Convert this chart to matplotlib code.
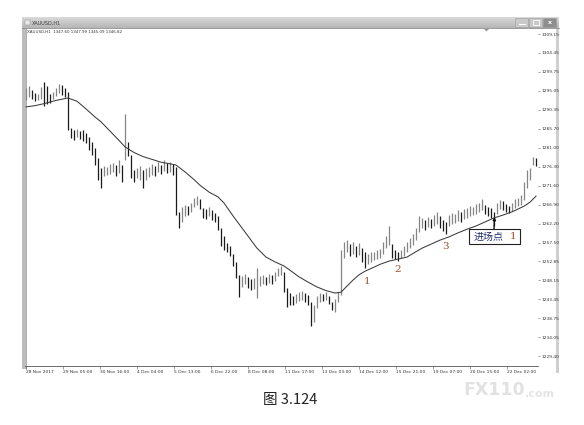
import numpy as np
import matplotlib
matplotlib.use("Agg")
import matplotlib.pyplot as plt
from matplotlib.patches import Rectangle, Polygon
from matplotlib.colors import LinearSegmentedColormap

# ---------------- data ----------------
highs = [1295.8, 1296.3, 1295.3, 1294.5, 1294.3, 1296.0, 1297.3, 1296.3, 1294.3, 1294.8,
         1295.8, 1296.8, 1296.5, 1295.8, 1294.8, 1285.9, 1285.4, 1285.6, 1285.1, 1285.4,
         1284.6, 1283.6, 1282.4, 1280.9, 1278.4, 1275.9, 1276.4, 1276.2, 1276.9, 1277.2,
         1276.7, 1277.9, 1276.7, 1289.3, 1282.4, 1279.2, 1275.5, 1275.9, 1276.4, 1275.5,
         1275.9, 1276.2, 1276.9, 1276.4, 1277.4, 1276.7, 1277.9, 1277.2, 1277.4, 1276.9,
         1276.2, 1265.1, 1266.3, 1266.8, 1266.5, 1267.3, 1268.5, 1269.0, 1268.3, 1266.0,
         1265.8, 1266.3, 1265.6, 1264.8, 1264.1, 1261.1, 1259.1, 1257.4, 1256.6, 1254.7,
         1252.7, 1249.5, 1249.2, 1249.7, 1249.0, 1248.5, 1248.7, 1251.2, 1249.2, 1249.5,
         1249.0, 1249.7, 1249.5, 1250.2, 1251.2, 1251.7, 1250.2, 1246.2, 1245.0, 1244.2,
         1244.7, 1245.2, 1245.5, 1245.0, 1244.5, 1242.8, 1242.0, 1244.2, 1245.0, 1244.7,
         1245.2, 1244.2, 1242.8, 1243.5, 1245.2, 1255.6, 1257.6, 1258.1, 1257.1, 1257.6,
         1256.6, 1257.4, 1256.1, 1255.2, 1254.7, 1255.2, 1255.2, 1255.6, 1255.9, 1257.6,
         1259.1, 1261.6, 1257.1, 1255.6, 1255.2, 1255.6, 1256.6, 1257.6, 1258.6, 1259.6,
         1261.1, 1264.1, 1263.6, 1263.1, 1263.8, 1263.3, 1264.3, 1265.1, 1264.1, 1263.1,
         1262.6, 1264.3, 1264.8, 1264.6, 1265.6, 1265.1, 1265.8, 1266.0, 1266.5, 1266.3,
         1267.0, 1267.3, 1268.3, 1266.8, 1266.3, 1266.0, 1265.1, 1267.3, 1268.0, 1267.8,
         1267.0, 1266.5, 1267.3, 1268.3, 1268.5, 1269.3, 1272.5, 1275.5, 1275.9, 1278.7,
         1278.4]
lows = [1292.8, 1293.5, 1293.0, 1292.5, 1292.8, 1293.0, 1291.3, 1291.8, 1292.0, 1293.0,
        1293.8, 1294.5, 1294.0, 1293.5, 1285.4, 1283.4, 1282.9, 1283.6, 1283.1, 1282.6,
        1282.1, 1280.4, 1279.2, 1276.7, 1273.0, 1271.0, 1274.0, 1274.2, 1274.5, 1275.0,
        1274.0, 1274.7, 1272.5, 1277.9, 1278.9, 1273.5, 1272.5, 1273.5, 1273.0, 1271.0,
        1273.0, 1273.7, 1274.2, 1274.0, 1275.0, 1274.5, 1275.2, 1274.7, 1275.0, 1274.2,
        1264.3, 1261.1, 1262.6, 1264.1, 1264.3, 1265.1, 1266.3, 1266.8, 1265.8, 1263.6,
        1263.3, 1264.1, 1263.1, 1262.6, 1260.6, 1256.6, 1255.6, 1255.2, 1254.2, 1251.7,
        1248.7, 1244.0, 1246.5, 1247.2, 1246.2, 1245.7, 1246.0, 1243.8, 1246.7, 1247.2,
        1247.0, 1247.5, 1247.2, 1248.0, 1249.2, 1249.5, 1245.2, 1241.5, 1242.0, 1242.0,
        1242.5, 1243.0, 1243.3, 1242.8, 1242.0, 1236.8, 1237.8, 1241.3, 1242.8, 1243.0,
        1243.3, 1242.3, 1240.8, 1240.3, 1242.8, 1244.5, 1253.7, 1255.2, 1254.2, 1254.7,
        1253.9, 1254.4, 1252.7, 1251.2, 1252.2, 1252.7, 1253.2, 1253.4, 1253.7, 1254.7,
        1256.1, 1256.9, 1253.7, 1253.4, 1252.9, 1253.7, 1254.2, 1255.2, 1256.1, 1256.9,
        1258.1, 1260.1, 1261.1, 1260.6, 1261.3, 1261.1, 1261.6, 1262.1, 1261.1, 1260.4,
        1259.6, 1261.6, 1262.1, 1262.3, 1262.8, 1262.6, 1263.3, 1263.6, 1264.1, 1264.3,
        1264.6, 1265.1, 1265.6, 1264.6, 1264.1, 1263.6, 1261.6, 1264.6, 1265.8, 1265.6,
        1265.1, 1264.8, 1265.3, 1266.0, 1266.5, 1266.8, 1268.0, 1271.0, 1273.0, 1276.7,
        1276.4]

ma_bar = [0, 3, 6, 10, 14, 17, 20, 23, 25, 28, 31, 33, 36, 39, 42, 45, 48, 50, 53, 56,
          58, 61, 64, 66, 69, 72, 75, 77, 80, 83, 86, 89, 91, 94, 97, 100, 103, 105, 107,
          109, 111, 113, 116, 118, 121, 124, 127, 129, 132, 135, 138, 141, 144, 147, 150,
          153, 156, 159, 162, 164, 166, 168, 170]
ma_val = [1291.1, 1291.4, 1291.9, 1292.7, 1293.3, 1292.5, 1290.6, 1288.6, 1287.4, 1285.1,
          1282.8, 1281.2, 1279.8, 1278.8, 1278.1, 1277.4, 1277.0, 1276.7, 1275.0, 1273.1,
          1271.7, 1270.0, 1268.8, 1267.3, 1264.1, 1261.1, 1258.1, 1256.1, 1253.9, 1252.7,
          1251.7, 1250.1, 1249.0, 1247.7, 1246.5, 1245.6, 1245.0, 1245.2, 1246.7, 1248.2,
          1249.5, 1250.4, 1251.4, 1252.1, 1252.9, 1253.4, 1253.9, 1254.8, 1256.1, 1257.1,
          1258.1, 1258.9, 1259.9, 1260.8, 1261.6, 1262.6, 1263.6, 1264.3, 1265.1, 1265.8,
          1266.5, 1267.5, 1269.0]

ytick_vals = [1309.15, 1304.45, 1299.75, 1295.05, 1290.35, 1285.70, 1281.00, 1276.30,
              1271.60, 1266.90, 1262.20, 1257.50, 1252.85, 1248.15, 1243.45, 1238.75,
              1234.05, 1229.40]
xtick_labels = ["28 Nov 2017", "29 Nov 05:00", "30 Nov 16:00", "4 Dec 04:00",
                "5 Dec 13:00", "6 Dec 22:00", "8 Dec 08:00", "11 Dec 17:00",
                "13 Dec 03:00", "14 Dec 12:00", "15 Dec 21:00", "19 Dec 07:00",
                "20 Dec 15:00", "22 Dec 02:00"]
wave_labels = ["1", "2", "3"]
title_text = "XAUUSD,H1"
info_text = "XAUUSD,H1  1347.60 1347.99 1345.09 1346.82"
entry_text = "进场点"
entry_num = "1"
caption = "图 3.124"

# ---------------- figure ----------------
W, H = 584, 425
fig = plt.figure(figsize=(W / 100, H / 100), dpi=100)
fig.patch.set_facecolor("white")

bg = fig.add_axes([0, 0, 1, 1], zorder=0)
bg.set_xlim(0, W); bg.set_ylim(H, 0); bg.axis("off")

# title bar gradient
grad = np.linspace(0, 1, 50).reshape(-1, 1)
bg.imshow(grad, extent=(22, 559, 28, 17),
          cmap=LinearSegmentedColormap.from_list("tb", ["#dadada", "#b5b5b5"]),
          aspect="auto", zorder=1)
bg.plot([22, 559], [28, 28], color="#8c8c8c", lw=0.6, zorder=2)
bg.add_patch(Rectangle((25, 19.5), 5, 5, facecolor="#e8e8e8", edgecolor="#888", lw=0.3, zorder=3))
bg.text(32, 22.8, title_text, fontsize=3.6, color="#3a3a3a", va="center", ha="left", zorder=3)
for x0, fc in [(515, "#c9c9c9"), (529, "#c9c9c9"), (543, "#8e8e8e")]:
    bg.add_patch(Rectangle((x0, 18), 13, 9, facecolor=fc, edgecolor="#9a9a9a", lw=0.4, zorder=3))
bg.plot([518.5, 524.5], [23.5, 23.5], color="white", lw=0.8, zorder=4)
bg.add_patch(Rectangle((532.5, 20), 6, 5, facecolor="none", edgecolor="white", lw=0.6, zorder=4))
bg.text(549.5, 22.5, "x", fontsize=4.5, color="white", ha="center", va="center",
        fontweight="bold", zorder=4)

# window borders
bg.add_patch(Rectangle((22, 28), 4, 341, facecolor="#bdbdbd", edgecolor="none", zorder=1))
bg.plot([26, 26], [28, 369], color="#909090", lw=0.5, zorder=2)
bg.add_patch(Rectangle((556, 28), 3, 345, facecolor="#cfcfcf", edgecolor="none", zorder=1))

bg.text(27, 31.5, info_text, fontsize=2.9, color="#333", va="center", ha="left")
bg.add_patch(Polygon([[484, 29], [489, 29], [486.5, 31.5]], closed=True,
                     facecolor="#999", edgecolor="none"))

# caption and watermark
bg.text(290, 400, caption, fontsize=10.5, color="#222", ha="center", va="center",
        family=["Noto Sans CJK SC", "DejaVu Sans"])
wm = bg.text(463, 395, "FX110", fontsize=12.5, fontweight="bold", color="#e2e2e2",
             ha="left", va="baseline")
bg.annotate(".com", xy=(1, 0), xycoords=wm, xytext=(0.5, 0), textcoords="offset points",
            fontsize=8, fontweight="bold", color="#e4e4e4", ha="left", va="bottom")

# ---------------- price axes ----------------
left_px, right_px, top_px, bot_px = 25, 538, 27, 366
ax = fig.add_axes([left_px / W, 1 - bot_px / H, (right_px - left_px) / W, (bot_px - top_px) / H],
                  zorder=1)
ax.patch.set_alpha(0)
n = len(highs)
x = np.arange(n)
hi = np.array(highs); lo = np.array(lows)
mid = (hi + lo) / 2
up = np.r_[True, mid[1:] >= mid[:-1]]
cols = np.where(up, "#858585", "#1a1a1a")
ax.vlines(x, lo, hi, colors=cols, lw=0.9)
ax.plot(ma_bar, ma_val, color="#3a3a3a", lw=0.75)

ax.set_xlim(-1 / 3, n - 1 / 3)
p_per_px = (ytick_vals[0] - ytick_vals[-1]) / (356 - 34)
ax.set_ylim(ytick_vals[0] - (366 - 34) * p_per_px, ytick_vals[0] + (34 - 27) * p_per_px)

ax.yaxis.tick_right()
ax.set_yticks(ytick_vals)
ax.set_yticklabels([f"{v:.2f}" for v in ytick_vals], fontsize=3.2, color="#333")
ax.tick_params(axis="y", length=1.5, width=0.4, pad=0.8, colors="#555")
xt = np.arange(len(xtick_labels)) * 37 / 3
ax.set_xticks(xt)
ax.set_xticklabels(xtick_labels, fontsize=3.2, color="#333", ha="left")
ax.tick_params(axis="x", length=2.5, width=0.4, pad=0.6, colors="#555")
for lab in ax.get_xticklabels() + ax.get_yticklabels():
    lab.set_color("#333")
for s in ["top", "left", "right"]:
    ax.spines[s].set_visible(False)
ax.spines["bottom"].set_color("#555")
ax.spines["bottom"].set_linewidth(0.6)

# ---------------- annotations ----------------
ov = fig.add_axes([0, 0, 1, 1], zorder=2)
ov.set_xlim(0, W); ov.set_ylim(H, 0); ov.axis("off")
ov.patch.set_alpha(0)
wave_color = "#a0522d"
for lab, (px, py) in zip(wave_labels, [(367, 282), (398, 270), (446, 246)]):
    ov.text(px, py, lab, fontsize=7.5, color=wave_color, ha="center", va="center",
            family="DejaVu Serif")
ov.add_patch(Rectangle((469, 229), 51, 14.5, facecolor="white", edgecolor="#222", lw=0.8))
ov.text(488.5, 236.5, entry_text, fontsize=7.2, color="#1f2d6b", ha="center", va="center",
        family=["Noto Sans CJK SC", "DejaVu Sans"])
ov.text(513.5, 236.5, entry_num, fontsize=7.5, color=wave_color, ha="center", va="center",
        family="DejaVu Serif")
ov.annotate("", xy=(494.5, 217), xytext=(494, 229),
            arrowprops=dict(arrowstyle="-|>", color="#111", lw=1.0, mutation_scale=4,
                            shrinkA=0, shrinkB=0))

fig.savefig("out.png", dpi=100, facecolor="white")
